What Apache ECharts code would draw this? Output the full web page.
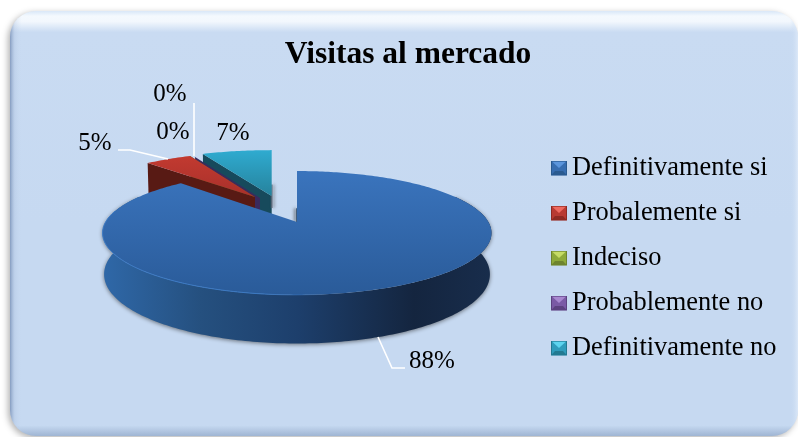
<!DOCTYPE html>
<html><head><meta charset="utf-8">
<style>html,body{margin:0;padding:0;background:#fff}#c{width:798px;height:437px}</style>
<script src="https://cdn.jsdelivr.net/npm/echarts@6/dist/echarts.min.js"></script>
</head><body><div id="c"></div>
<script>
const titleText = 'Visitas al mercado';
const categories = ['Definitivamente si','Probalemente si','Indeciso','Probablemente no','Definitivamente no'];
const percentages = [88, 5, 0, 0, 7];
const topColors = [['#3a74bd','#2a5b99'],['#c23a30','#a8302b'],['#8eaa3a','#7a9430'],['#7a5aa5','#5f4585'],['#2fabd0','#26829c']];
const faceColors = ['#1b3a63','#581a14','#4c5c1e','#3a2a5e','#174a5c'];
const legendTones = [['#5b95dc','#376db0','#2a5a90'],['#ee6a60','#b83a32','#8e2a23'],['#c6dc66','#8eaa3a','#6e842e'],['#a888d0','#7a5aa5','#5c4280'],['#5cd4ef','#2f9cbc','#227a92']];
// where each exploded slice sits: apex on screen and its scale
const slicePose = [
  {ax:297,ay:222,sx:1,sy:1},{ax:255,ay:197,sx:.925,sy:.876},{ax:255,ay:197,sx:.925,sy:.876},
  {ax:260,ay:198,sx:.925,sy:.876},{ax:271.7,ay:196,sx:.98,sy:.9}
];
const labelPose = [
  {x:432,y:361,line:[[378,337],[392,368],[405,368]]},
  {x:95,y:143,line:[[118,150],[130,150],[168,159]]},
  {x:173,y:132,line:null},
  {x:170,y:94,line:[[194,103],[194,156]]},
  {x:233,y:133,line:null}
];
const drawOrder = [4,3,2,1,0];

const RX=191.4, RY=60, P=0.177, DEPTH=40, FONT='"Liberation Serif", serif';
const total = percentages.reduce((a,b)=>a+b,0);
const starts=[]; percentages.reduce((acc,v,i)=>{starts[i]=acc;return acc+v;},0);
const toAngle = v => v/total*Math.PI*2;

function pt(pose,r,th,down){
  const u=r*Math.sin(th), v=-r*Math.cos(th), w=1-P*v;
  const sc = down ? .992 : 1;
  return [pose.ax+pose.sx*RX*u/w*sc, pose.ay+pose.sy*RY*v/w+(down?DEPTH*pose.sy/w:0)];
}
function arc(pose,a,b,down){
  const out=[], n=Math.max(1,Math.ceil(Math.abs(b-a)/(Math.PI/180)));
  for(let i=0;i<=n;i++) out.push(pt(pose,1,a+(b-a)*i/n,down));
  return out;
}
const G = echarts.graphic;
function renderSlice(idx){
  return function(params,api){
    const value=api.value(0), pose=slicePose[idx];
    const a=toAngle(starts[idx]), b=a+toAngle(value);
    const kids=[];
    const apex=pt(pose,0,0,false), apexD=pt(pose,0,0,true);
    if(idx===0){
      const fa=Math.max(a,Math.PI*.35), fb=Math.min(b,Math.PI*1.65);
      const wall=arc(pose,fa,fb,false).concat(arc(pose,fa,fb,true).reverse());
      kids.push({type:'polygon',shape:{points:wall},style:{
        fill:new G.LinearGradient(103,0,492,0,[
          {offset:0,color:'#2f68a8'},{offset:.25,color:'#25507f'},{offset:.5,color:'#1d3f6c'},
          {offset:.8,color:'#14253f'},{offset:1,color:'#182d4c'}],true),
        shadowColor:'rgba(40,40,40,.6)',shadowBlur:4,shadowOffsetY:1}});
      // soft shade on the open cut beside the wedge
      kids.push({type:'polyline',shape:{points:[pt(pose,.24,0,false),apex]},style:{fill:'none',stroke:'#23405f',lineWidth:1.5,
        shadowColor:'rgba(50,50,50,.8)',shadowBlur:3,shadowOffsetX:-2}});
    } else {
      kids.push({type:'polygon',shape:{points:[apex,pt(pose,1,a,false),pt(pose,1,a,true),apexD]},
        style:{fill:faceColors[idx]}});
    }
    const top=[apex].concat(arc(pose,a,b,false));
    const tc=topColors[idx];
    const ys=top.map(p=>p[1]);
    if(idx===4){
      kids.push({type:'polyline',shape:{points:[pt(pose,.22,b,false),[apex[0],apex[1]+12]]},style:{fill:'none',stroke:'rgba(90,100,115,.7)',lineWidth:2,
        shadowColor:'rgba(60,60,60,.6)',shadowBlur:3,shadowOffsetX:2}});
    }
    kids.push({type:'polygon',shape:{points:top},style:{
      fill:new G.LinearGradient(0,Math.min(...ys),0,Math.max(...ys),[{offset:0,color:tc[0]},{offset:1,color:tc[1]}],true)}});
    if(idx===0){
      kids.push({type:'polyline',shape:{points:arc(pose,Math.PI*.9,Math.PI*1.56,false)},style:{
        fill:'none',lineWidth:1,
        stroke:new G.LinearGradient(103,0,330,0,[{offset:0,color:'#3f7cc6'},{offset:.7,color:'#3a78c2'},{offset:1,color:'rgba(58,120,194,0)'}],true)}});
    }
    const lp=labelPose[idx];
    if(lp.line) kids.push({type:'polyline',shape:{points:lp.line},style:{fill:'none',stroke:'#fff',lineWidth:1.6}});
    kids.push({type:'text',style:{x:lp.x,y:lp.y,text:percentages[idx]+'%',fill:'#000',
      font:'25px '+FONT,align:'center',verticalAlign:'middle'}});
    return {type:'group',children:kids};
  };
}
function iconOf(t){
  const s=`<svg xmlns="http://www.w3.org/2000/svg" width="16" height="15"><rect width="16" height="15" fill="${t[1]}"/>`+
    `<polygon points="1,1 15,1 8,7.5" fill="${t[0]}"/><polygon points="0,15 16,15 12,10.5 4,10.5" fill="${t[2]}"/>`+
    `<rect x=".5" y=".5" width="15" height="14" fill="none" stroke="${t[2]}"/></svg>`;
  return 'image://data:image/svg+xml;charset=utf-8,'+encodeURIComponent(s);
}
const chart=echarts.init(document.getElementById('c'),null,{renderer:'canvas'});
const PX=10,PY=11,PW=788,PH=425;
chart.setOption({
  animation:false,
  graphic:[
    {type:'rect',z:-5,shape:{x:PX,y:PY,width:PW,height:PH,r:26},style:{
      fill:new G.LinearGradient(0,0,0,1,[
        {offset:0,color:'#d9e7f8'},{offset:.012,color:'#f4f9fe'},{offset:.025,color:'#f2f7fd'},{offset:.05,color:'#c9dbf2'},
        {offset:.5,color:'#c6d9f1'},{offset:.975,color:'#c6d9f1'},{offset:1,color:'#9fb5d3'}]),
      shadowColor:'rgba(0,0,0,.3)',shadowBlur:6,shadowOffsetX:-2,shadowOffsetY:2}},
    {type:'rect',z:-4,shape:{x:PX,y:PY,width:PW,height:PH,r:26},style:{
      fill:new G.LinearGradient(0,0,1,0,[
        {offset:0,color:'rgba(110,135,175,.75)'},{offset:.006,color:'rgba(170,190,220,.3)'},{offset:.015,color:'rgba(198,217,241,0)'},
        {offset:.99,color:'rgba(198,217,241,0)'},{offset:1,color:'rgba(225,236,250,.8)'}])}}
  ],
  title:{text:titleText,left:403,top:34,textAlign:'center',textStyle:{fontFamily:FONT,fontSize:31.5,fontWeight:'bold',color:'#000'}},
  legend:{orient:'vertical',left:546,top:150,itemWidth:16,itemHeight:15,itemGap:19,selectedMode:false,
    textStyle:{fontFamily:FONT,fontSize:26.4,color:'#000',height:26,lineHeight:26},
    data:categories.map((n,i)=>({name:n,icon:iconOf(legendTones[i])}))},
  series:drawOrder.map(i=>({type:'custom',name:categories[i],coordinateSystem:'none',z:5-i,
    itemStyle:{color:legendTones[i][1]},data:[[percentages[i]]],renderItem:renderSlice(i)}))
});
</script></body></html>
